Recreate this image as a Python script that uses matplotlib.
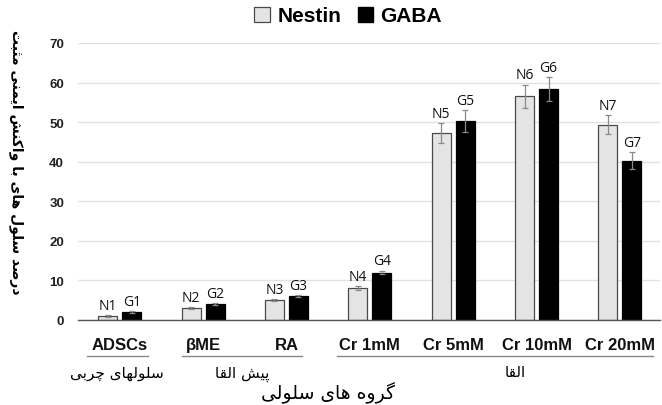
import matplotlib
matplotlib.use("Agg")
import matplotlib.pyplot as plt
import numpy as np
from matplotlib.patches import Patch
from matplotlib.lines import Line2D

# ---------------- data ----------------
categories = ["ADSCs", "βME", "RA", "Cr 1mM", "Cr 5mM", "Cr 10mM", "Cr 20mM"]
nestin = [1, 3, 5, 8, 47.3, 56.5, 49.4]
gaba = [2, 4, 6, 12, 50.3, 58.4, 40.3]
nestin_err = [0.2, 0.2, 0.3, 0.5, 2.5, 3.0, 2.5]
gaba_err = [0.2, 0.2, 0.3, 0.5, 2.7, 3.0, 2.1]
nestin_labels = ["N1", "N2", "N3", "N4", "N5", "N6", "N7"]
gaba_labels = ["G1", "G2", "G3", "G4", "G5", "G6", "G7"]
series_names = ["Nestin", "GABA"]
yticks = [0, 10, 20, 30, 40, 50, 60, 70]
ylabel_text = "درصد سلول های با واکنش ایمنی مثبت"
xlabel_text = "گروه های سلولی"
group_texts = ["سلولهای چربی", "پیش القا", "القا"]

# ------------- minimal Persian shaping (presentation forms) -------------
FORMS = {  # isolated, final, initial, medial
    'ا': ('\uFE8D', '\uFE8E', None, None),
    'ب': ('\uFE8F', '\uFE90', '\uFE91', '\uFE92'),
    'پ': ('\uFB56', '\uFB57', '\uFB58', '\uFB59'),
    'ت': ('\uFE95', '\uFE96', '\uFE97', '\uFE98'),
    'ث': ('\uFE99', '\uFE9A', '\uFE9B', '\uFE9C'),
    'چ': ('\uFB7A', '\uFB7B', '\uFB7C', '\uFB7D'),
    'د': ('\uFEA9', '\uFEAA', None, None),
    'ر': ('\uFEAD', '\uFEAE', None, None),
    'س': ('\uFEB1', '\uFEB2', '\uFEB3', '\uFEB4'),
    'ش': ('\uFEB5', '\uFEB6', '\uFEB7', '\uFEB8'),
    'ص': ('\uFEB9', '\uFEBA', '\uFEBB', '\uFEBC'),
    'ق': ('\uFED5', '\uFED6', '\uFED7', '\uFED8'),
    'ک': ('\uFB8E', '\uFB8F', '\uFB90', '\uFB91'),
    'گ': ('\uFB92', '\uFB93', '\uFB94', '\uFB95'),
    'ل': ('\uFEDD', '\uFEDE', '\uFEDF', '\uFEE0'),
    'م': ('\uFEE1', '\uFEE2', '\uFEE3', '\uFEE4'),
    'ن': ('\uFEE5', '\uFEE6', '\uFEE7', '\uFEE8'),
    'ه': ('\uFEE9', '\uFEEA', '\uFEEB', '\uFEEC'),
    'و': ('\uFEED', '\uFEEE', None, None),
    'ی': ('\uFBFC', '\uFBFD', '\uFBFE', '\uFBFF'),
}


def shape(text):
    chars = list(text)
    out = []
    for i, c in enumerate(chars):
        if c not in FORMS:
            out.append(c)
            continue
        prev = chars[i - 1] if i > 0 else None
        nxt = chars[i + 1] if i + 1 < len(chars) else None
        jp = prev in FORMS and FORMS[prev][2] is not None
        jn = nxt in FORMS and FORMS[c][2] is not None
        iso, fin, ini, med = FORMS[c]
        if jp and jn:
            out.append(med)
        elif jp:
            out.append(fin)
        elif jn:
            out.append(ini)
        else:
            out.append(iso)
    return "".join(reversed(out))


# ---------------- figure ----------------
W, H = 662, 406
fig = plt.figure(figsize=(W / 100, H / 100), dpi=100)
ax = fig.add_axes([78 / W, 1 - 321 / H, (660 - 78) / W, (321 - 44) / H])

x = np.arange(len(categories))
bw = 0.228
off = 0.144

ax.bar(x - off, nestin, bw, color="#e4e4e4", edgecolor="#4a4a4a", linewidth=0.9, zorder=3)
ax.bar(x + off, gaba, bw, color="black", edgecolor="black", linewidth=0.9, zorder=3)
ax.errorbar(x - off, nestin, yerr=nestin_err, fmt="none", ecolor="#8a8a8a", elinewidth=0.9, capsize=2, capthick=0.9, zorder=4)
ax.errorbar(x + off, gaba, yerr=gaba_err, fmt="none", ecolor="#8a8a8a", elinewidth=0.9, capsize=2, capthick=0.9, zorder=4)

for xi, v, e, lab in zip(x - off, nestin, nestin_err, nestin_labels):
    ax.annotate(lab, (xi, v + e), xytext=(0, 1.5), textcoords="offset points", ha="center", va="bottom",
                fontsize=10, family="Open Sans", color="#111111")
for xi, v, e, lab in zip(x + off, gaba, gaba_err, gaba_labels):
    ax.annotate(lab, (xi, v + e), xytext=(0, 1.5), textcoords="offset points", ha="center", va="bottom",
                fontsize=10, family="Open Sans", color="#111111")

ax.set_xlim(-0.5, 6.48)
ax.set_ylim(0, 70)
ax.set_yticks(yticks)
ax.set_yticklabels([str(t) for t in yticks], fontsize=9.5, fontweight="bold", family="Liberation Sans", color="#222222")
ax.tick_params(axis="y", length=0, pad=10)
ax.set_xticks(x)
ax.set_xticklabels(categories, fontsize=12, fontweight="bold", family="Liberation Sans", color="#111111")
ax.tick_params(axis="x", length=0, pad=12)
ax.yaxis.grid(True, color="#e2e2e2", linewidth=1, zorder=0)
ax.set_axisbelow(True)
for s in ["top", "right", "left"]:
    ax.spines[s].set_visible(False)
ax.spines["bottom"].set_color("#555555")
ax.spines["bottom"].set_linewidth(1.0)
ax.spines["bottom"].set_zorder(5)

# group underlines
for x0, x1 in [(87, 148), (182, 302), (337, 653)]:
    fig.add_artist(Line2D([x0 / W, x1 / W], [1 - 357 / H, 1 - 357 / H], color="#888888", linewidth=1.0))

pfont = ["DejaVu Sans"]
fig.text(117 / W, 1 - 374 / H, shape(group_texts[0]), ha="center", va="center", fontsize=11, family=pfont)
fig.text(242 / W, 1 - 374 / H, shape(group_texts[1]), ha="center", va="center", fontsize=11, family=pfont)
fig.text(515 / W, 1 - 373 / H, shape(group_texts[2]), ha="center", va="center", fontsize=11, family=pfont)
fig.text(328 / W, 1 - 393 / H, shape(xlabel_text), ha="center", va="center", fontsize=13.5, family=pfont)
fig.text(16 / W, 1 - 162 / H, shape(ylabel_text), ha="center", va="center", fontsize=10, fontweight="bold",
         rotation=270, family=pfont)

handles = [Patch(facecolor="#e4e4e4", edgecolor="#4a4a4a", linewidth=0.9),
           Patch(facecolor="black", edgecolor="black")]
fig.legend(handles, series_names, loc="center", bbox_to_anchor=(0.526, 1 - 17 / H), ncol=2, frameon=False,
           prop=dict(family="Liberation Sans", weight="bold", size=15), handlelength=0.75, handleheight=0.75,
           handletextpad=0.35, columnspacing=0.8)

fig.savefig("out.png", dpi=100, facecolor="white")
